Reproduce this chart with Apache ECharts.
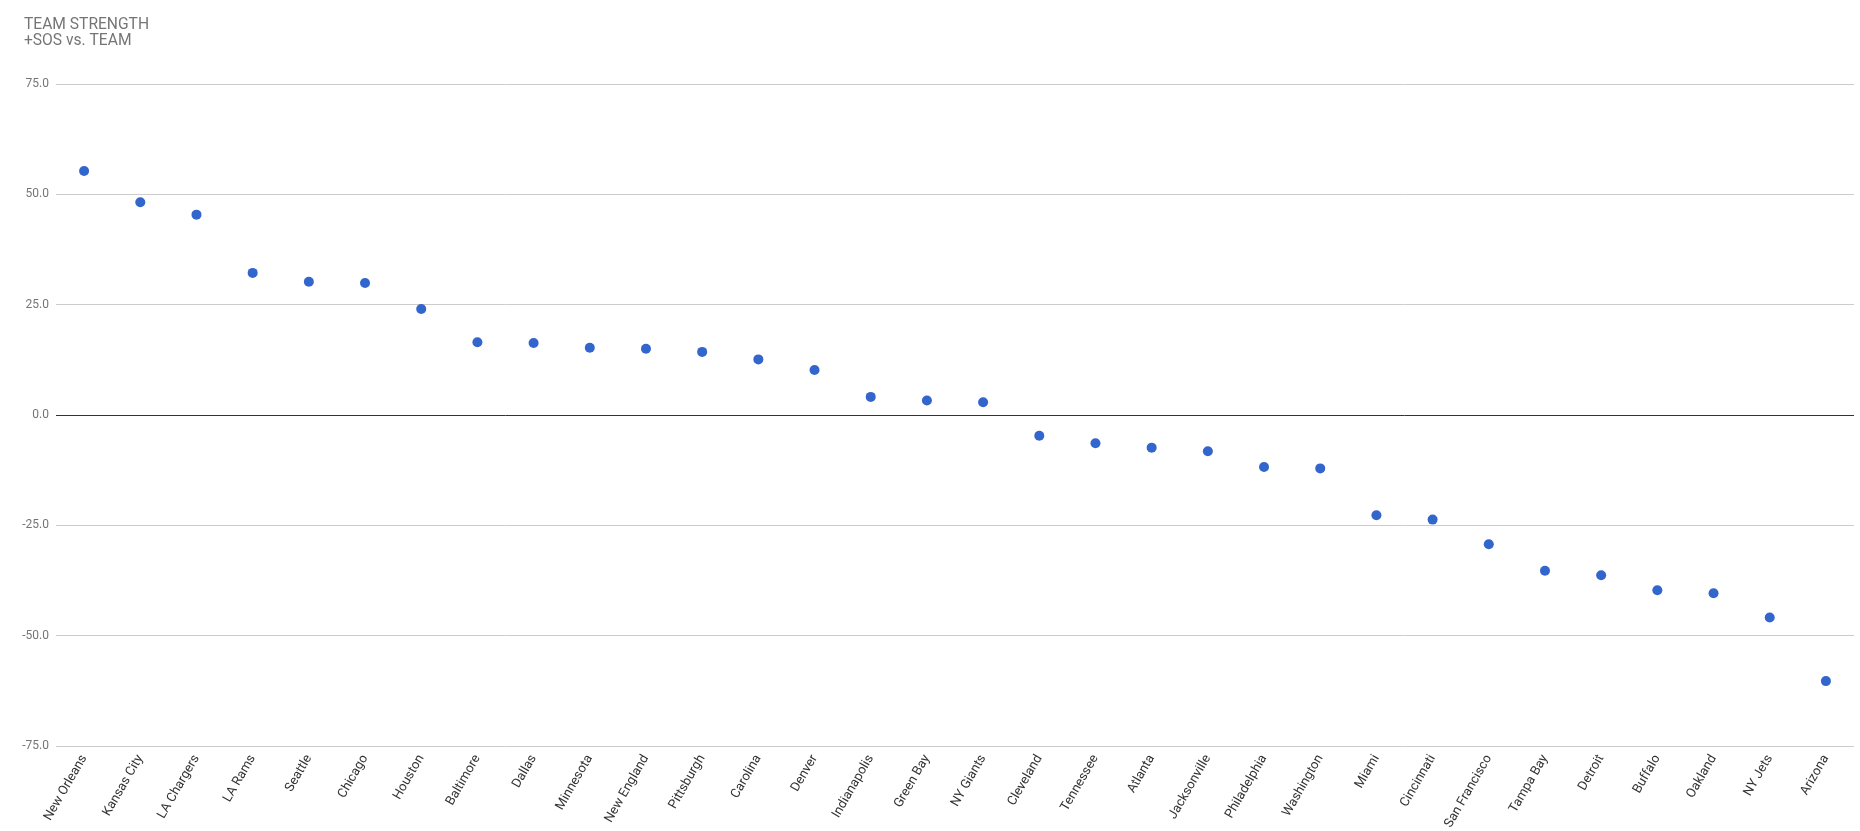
<!DOCTYPE html>
<html>
<head>
<meta charset="utf-8">
<script src="https://cdn.jsdelivr.net/npm/echarts@6/dist/echarts.min.js"></script>
<style>
html,body{margin:0;padding:0;background:#fff;}
#chart{width:1860px;height:831px;}
</style>
</head>
<body>
<div id="chart"></div>
<script>
const teams = ["New Orleans","Kansas City","LA Chargers","LA Rams","Seattle","Chicago","Houston","Baltimore","Dallas","Minnesota","New England","Pittsburgh","Carolina","Denver","Indianapolis","Green Bay","NY Giants","Cleveland","Tennessee","Atlanta","Jacksonville","Philadelphia","Washington","Miami","Cincinnati","San Francisco","Tampa Bay","Detroit","Buffalo","Oakland","NY Jets","Arizona"];
const strength = [55.3,48.2,45.4,32.2,30.2,29.9,24.0,16.5,16.3,15.25,15.0,14.3,12.6,10.2,4.1,3.3,2.9,-4.7,-6.4,-7.4,-8.2,-11.8,-12.1,-22.7,-23.7,-29.3,-35.3,-36.3,-39.7,-40.4,-45.9,-60.3];
const yTicks = [-75,-50,-25,0,25,50,75];

const chart = echarts.init(document.getElementById('chart'));
chart.setOption({
  animation: false,
  title: {
    text: 'TEAM STRENGTH\n+SOS vs. TEAM',
    left: 19, top: 12,
    textStyle: {fontFamily: 'Roboto', fontSize: 15.6, fontWeight: 'normal', color: '#757575', lineHeight: 16}
  },
  grid: {left: 56, right: 6, top: 84, bottom: 85, containLabel: false, outerBoundsMode: 'none'},
  xAxis: {
    type: 'category',
    data: teams,
    boundaryGap: true,
    axisLine: {show: false},
    axisTick: {show: false},
    splitLine: {show: false},
    axisLabel: {rotate: 60, interval: 0, margin: 10, fontFamily: 'Roboto', fontSize: 13, color: '#333333'}
  },
  yAxis: {
    type: 'value',
    min: yTicks[0], max: yTicks[yTicks.length-1], interval: 25,
    axisLine: {show: false},
    axisTick: {show: false},
    splitLine: {lineStyle: {color: '#cccccc', width: 1}},
    axisLabel: {margin: 7, fontFamily: 'Roboto', fontSize: 12, color: '#757575', formatter: v => v.toFixed(1)}
  },
  series: [{
    type: 'scatter',
    data: strength,
    symbol: 'circle',
    symbolSize: 10,
    itemStyle: {color: '#3366cc', opacity: 1},
    markLine: {
      silent: true, symbol: 'none', label: {show: false},
      lineStyle: {color: '#333333', width: 1, type: 'solid'},
      data: [{yAxis: 0}]
    },
    z: 3
  }]
});
</script>
</body>
</html>
